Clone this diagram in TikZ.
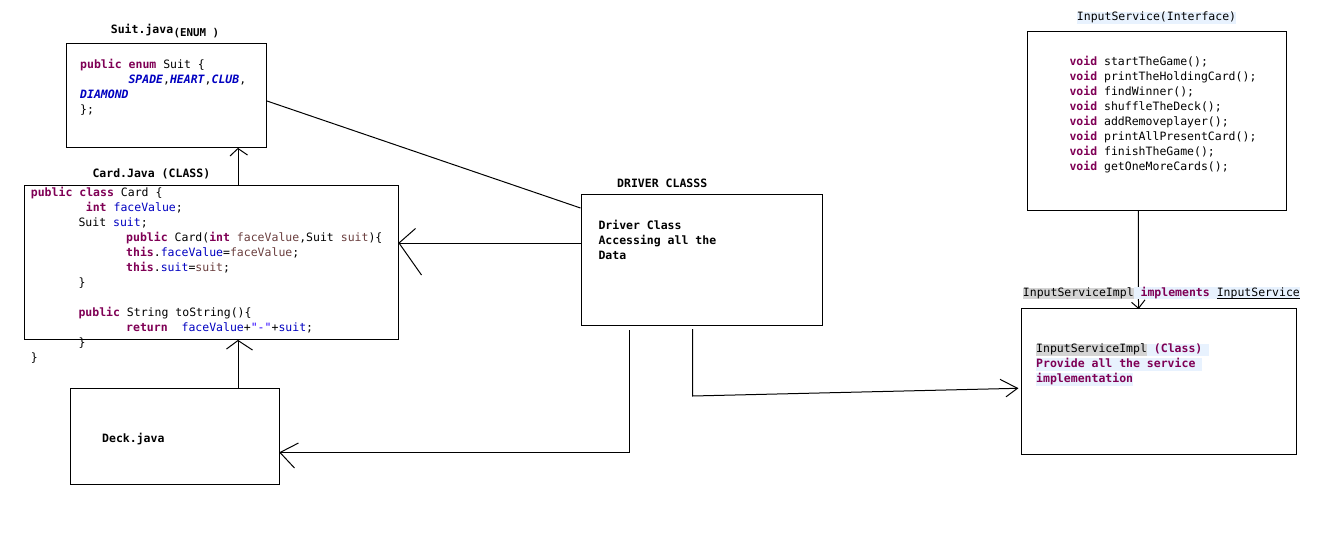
\documentclass[tikz,border=0pt]{standalone}
\usepackage{fontspec}
\setmonofont{DejaVu Sans Mono}
\usetikzlibrary{calc}
\definecolor{kwc}{HTML}{7F0055}
\definecolor{fldc}{HTML}{0000C0}
\definecolor{prmc}{HTML}{6A3E3E}
\definecolor{strc}{HTML}{2A00FF}
\definecolor{hlblue}{HTML}{E8F2FE}
\definecolor{hlgrey}{HTML}{D4D4D4}
\newcommand\kw[1]{\textcolor{kwc}{\bfseries#1}}
\newcommand\fld[1]{\textcolor{fldc}{#1}}
\newcommand\prm[1]{\textcolor{prmc}{#1}}
\newcommand\enm[1]{\textcolor{fldc}{\bfseries\itshape#1}}
\newcommand\strl[1]{\textcolor{strc}{#1}}
\newcommand\hlA{\rule[-3.4pt]{0pt}{11.6pt}}
\newcommand\hlB{\rule[-2.2pt]{0pt}{10pt}}
\newcommand\hlbox[2]{{\setlength\fboxsep{0pt}\colorbox{#1}{#2}}}
\newcommand\undl[1]{{\setbox0\hbox{#1}\rlap{\rule[-2pt]{\wd0}{0.8pt}}\box0}}
\tikzset{
  box/.style={draw, line width=1pt, inner sep=0pt, anchor=north west},
  code/.style={anchor=base west, inner sep=0pt, font=\ttfamily\fontsize{11.5}{15}\selectfont},
  ttl/.style={anchor=base west, inner sep=0pt, font=\ttfamily\bfseries\fontsize{11.5}{15}\selectfont},
  conn/.style={draw, line width=1pt},
}
\begin{document}
\begin{tikzpicture}[x=1pt,y=-1pt]
\useasboundingbox (0,0) rectangle (1341,544);
% boxes
\node[box, minimum width=200pt, minimum height=104pt] (suit) at (66,43) {};
\node[box, minimum width=373.5pt, minimum height=154pt] (card) at (24,185) {};
\node[box, minimum width=241pt, minimum height=131pt] (drv) at (580.5,194) {};
\node[box, minimum width=209pt, minimum height=96pt] (deck) at (69.5,388) {};
\node[box, minimum width=259pt, minimum height=179pt] (intf) at (1027.3,30.5) {};
\node[box, minimum width=275pt, minimum height=145.7pt] (impl) at (1020.5,308.3) {};
% connectors
\draw[conn] ($(suit.north east)+(0,58)$) -- ($(drv.north west)+(0,14)$);
\coordinate (tS) at ($(suit.south west)+(172,0.5)$);
\draw[conn] ($(card.north west)+(214,0)$) -- (tS);
\draw[conn] ($(tS)+(-8,7.5)$) -- (tS) -- ($(tS)+(9.5,6.5)$);
\coordinate (tC) at ($(card.north east)+(0.5,58)$);
\draw[conn] ($(drv.north west)+(0,49)$) -- (tC);
\draw[conn] ($(tC)+(16.5,-14.5)$) -- (tC) -- ($(tC)+(22.5,32)$);
\coordinate (tD) at ($(card.south west)+(214,0.5)$);
\draw[conn] ($(deck.north west)+(168.5,0)$) -- (tD);
\draw[conn] ($(tD)+(-11.5,8.5)$) -- (tD) -- ($(tD)+(14.5,9.5)$);
\coordinate (tK) at ($(deck.north east)+(0.5,64.5)$);
\draw[conn] ($(drv.south west)+(49,4)$) |- (tK);
\draw[conn] ($(tK)+(18.5,-9.5)$) -- (tK) -- ($(tK)+(14.5,15.5)$);
\coordinate (tI) at ($(impl.north west)+(-3,80)$);
\draw[conn] ($(drv.south west)+(112,3)$) -- ++(0,67) -- (tI);
\draw[conn] ($(tI)+(-17.5,-9)$) -- (tI) -- ($(tI)+(-11.5,8.5)$);
\coordinate (tJ) at ($(impl.north west)+(118,0)$);
\draw[conn] ($(intf.south west)+(111,0)$) -- (tJ);
\draw[conn] ($(tJ)+(-7,-6)$) -- (tJ) -- ($(tJ)+(6.5,-8.5)$);
% Suit
\node[ttl] (suitT) at (110.7,33) {Suit.java};
\node[ttl, font=\ttfamily\bfseries\fontsize{10.8}{14}\selectfont] (suitE) at (173.5,36) {(ENUM )};
\node[code] (s1) at (80,68) {\kw{public enum} Suit \{};
\node[code] (s2) at (128.3,83) {\enm{SPADE},\enm{HEART},\enm{CLUB},};
\node[code] (s3) at (80,98) {\enm{DIAMOND}};
\node[code] (s4) at (80,113) {\};};
% Card
\node[ttl] (cardT) at (92.3,177.3) {Card.Java (CLASS)};
\node[code] (c1) at (30.7,196) {\kw{public class} Card \{};
\node[code] (c2) at (85.7,211) {\kw{int} \fld{faceValue};};
\node[code] (c3) at (78.3,226) {Suit \fld{suit};};
\node[code] (c4) at (126,241) {\kw{public} Card(\kw{int} \prm{faceValue},Suit \prm{suit})\{};
\node[code] (c5) at (126,256) {\kw{this}.\fld{faceValue}=\prm{faceValue};};
\node[code] (c6) at (126,271) {\kw{this}.\fld{suit}=\prm{suit};};
\node[code] (c7) at (78.3,286) {\}};
\node[code] (c8) at (78.3,316) {\kw{public} String toString()\{};
\node[code] (c9) at (126,331) {\kw{return}\ \ \fld{faceValue}+\strl{"-"}+\fld{suit};};
\node[code] (c10) at (78.3,346) {\}};
\node[code] (c11) at (30.7,361) {\}};
% Driver
\node[ttl] (drvT) at (617,187.3) {DRIVER CLASSS};
\node[ttl] (d1) at (598.3,229) {Driver Class};
\node[ttl] (d2) at (598.3,244) {Accessing all the};
\node[ttl] (d3) at (598.3,259) {Data};
% Deck
\node[ttl] (deckT) at (102,442) {Deck.java};
% Interface
\node[code] (intfT) at (1076.7,20.7) {\hlbox{hlblue}{\hlA InputService(Interface)}};
\node[code] (i1) at (1069.3,65) {\kw{void} startTheGame();};
\node[code] (i2) at (1069.3,80) {\kw{void} printTheHoldingCard();};
\node[code] (i3) at (1069.3,95) {\kw{void} findWinner();};
\node[code] (i4) at (1069.3,110) {\kw{void} shuffleTheDeck();};
\node[code] (i5) at (1069.3,125) {\kw{void} addRemoveplayer();};
\node[code] (i6) at (1069.3,140) {\kw{void} printAllPresentCard();};
\node[code] (i7) at (1069.3,155) {\kw{void} finishTheGame();};
\node[code] (i8) at (1069.3,170) {\kw{void} getOneMoreCards();};
% Impl
\node[code] (implT) at (1022.7,296.3) {\hlbox{hlgrey}{\hlB InputServiceImpl}\hlbox{hlblue}{\hlB\ \kw{implements} \undl{InputService}}};
\node[code] (m1) at (1036,352.3) {\hlbox{hlgrey}{\hlA InputServiceImpl}\hlbox{hlblue}{\hlA\ \kw{(Class)}\ }};
\node[code] (m2) at (1036,367.3) {\hlbox{hlblue}{\hlA\kw{Provide all the service}\ }};
\node[code] (m3) at (1036,382.3) {\hlbox{hlblue}{\hlA\kw{implementation}}};
\end{tikzpicture}
\end{document}
